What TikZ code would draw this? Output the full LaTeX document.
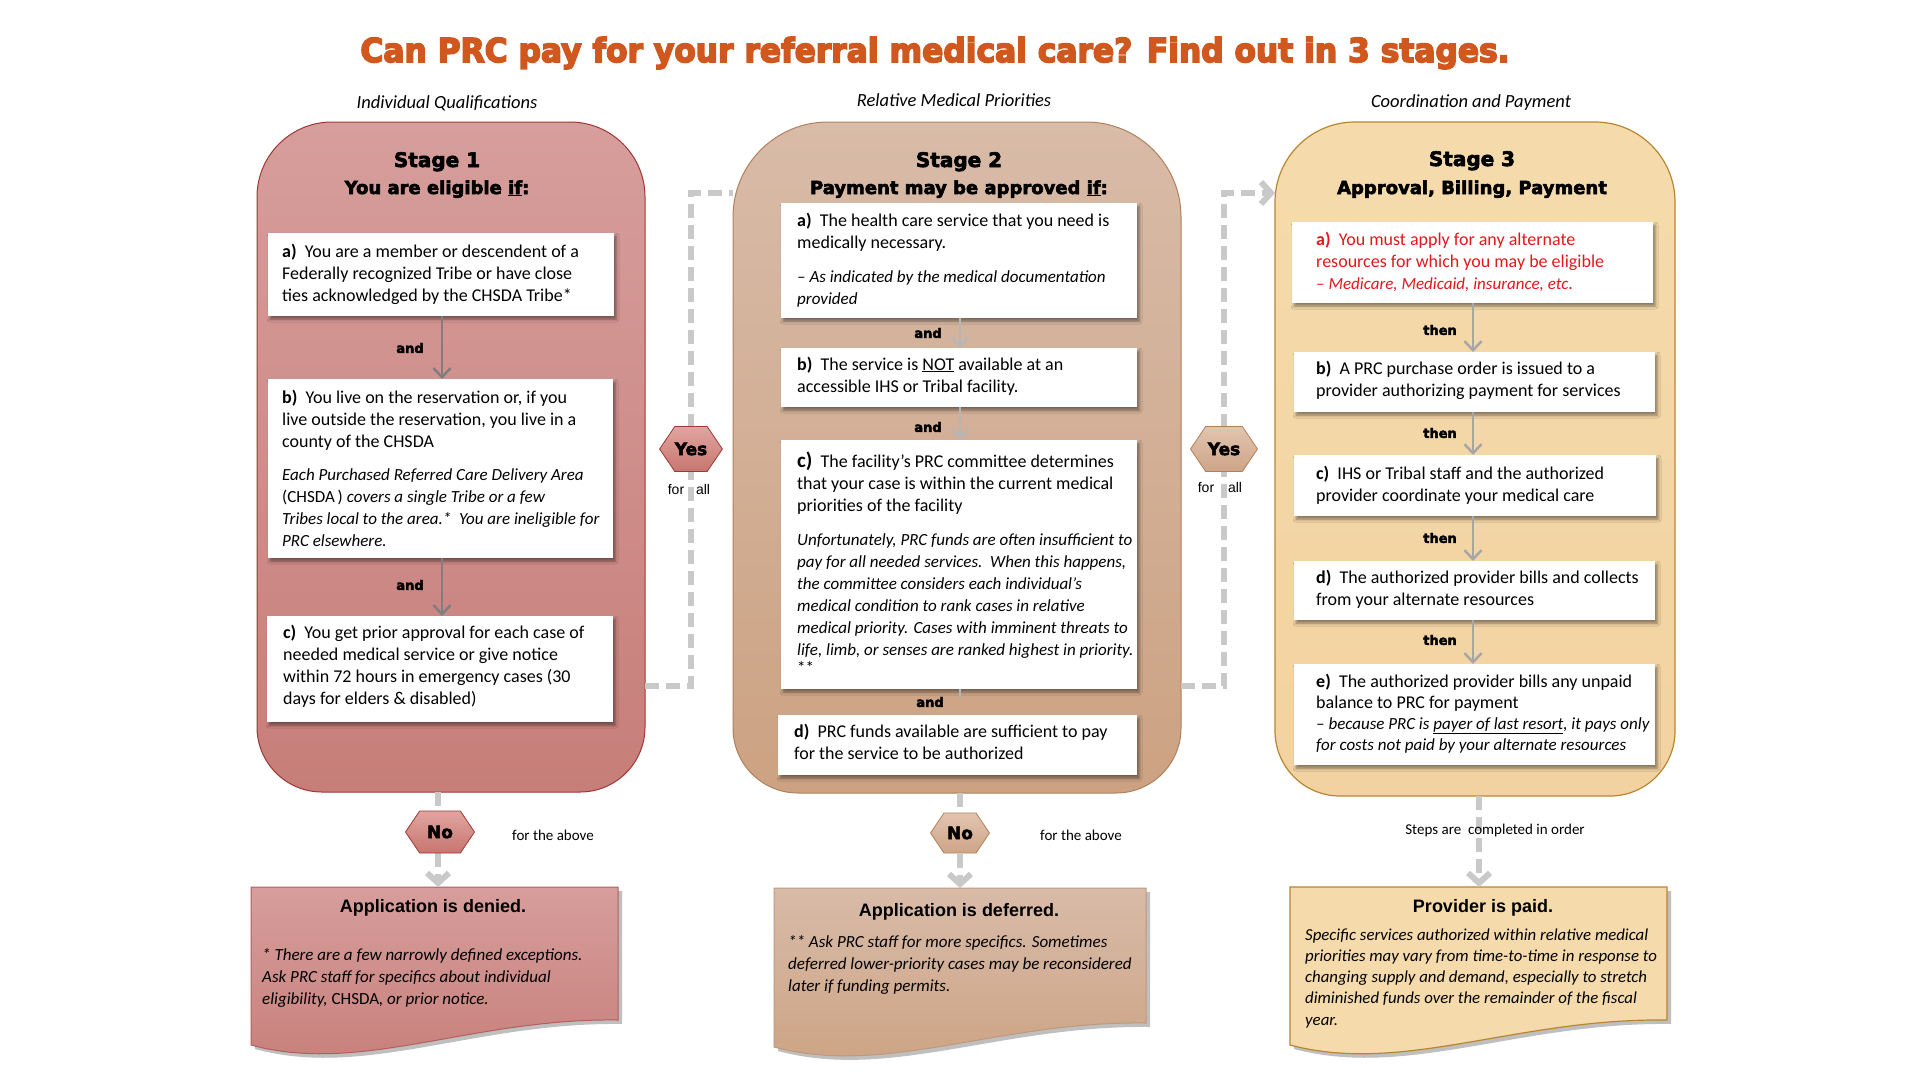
\documentclass[tikz,border=0pt]{standalone}
\usepackage{fontspec}
\usepackage{graphicx}
\setmainfont{Carlito}
\newfontfamily\heavy{DejaVu Sans}[BoldFeatures={FakeBold=3}]
\newfontfamily\titlefont{DejaVu Sans}[BoldFeatures={FakeBold=5}]
\newfontfamily\arial{Liberation Sans}
\usetikzlibrary{shapes.symbols,arrows.meta,shadows,shadows.blur}

\definecolor{titleor}{RGB}{208,88,30}
\definecolor{sAtop}{RGB}{214,158,156}
\definecolor{sAbot}{RGB}{199,126,121}
\definecolor{sAbrd}{RGB}{160,55,50}
\definecolor{sBtop}{RGB}{216,187,168}
\definecolor{sBbot}{RGB}{204,162,130}
\definecolor{sBbrd}{RGB}{176,128,92}
\definecolor{sCtop}{RGB}{245,219,172}
\definecolor{sCbot}{RGB}{242,210,160}
\definecolor{sCbrd}{RGB}{184,134,48}
\definecolor{hAtop}{RGB}{224,165,160}
\definecolor{hAbot}{RGB}{200,118,112}
\definecolor{hBtop}{RGB}{226,196,176}
\definecolor{hBbot}{RGB}{206,165,135}
\definecolor{dash}{RGB}{201,201,201}
\definecolor{gA}{RGB}{127,127,127}
\definecolor{gB}{RGB}{182,182,182}
\definecolor{gC}{RGB}{166,166,166}
\definecolor{redtxt}{RGB}{226,24,28}

\newcommand\bodyfont{\fontsize{18}{22}\selectfont}
\newcommand\ital[1]{{\fontsize{17}{22}\selectfont\itshape #1}}

\tikzset{
  wbox/.style={fill=white, draw=none, inner sep=0pt, anchor=north west,
    blur shadow={shadow xshift=2pt, shadow yshift=-3pt, shadow blur radius=3pt, shadow opacity=45}},
  btxt/.style={anchor=base west, inner sep=0pt},
  lbl/.style={inner sep=0pt, font=\heavy\bfseries\fontsize{13}{13}\selectfont},
  head/.style={anchor=base, inner sep=0pt, font=\heavy\bfseries\fontsize{20}{20}\selectfont},
  headb/.style={anchor=base, inner sep=0pt, font=\heavy\bfseries\fontsize{18}{18}\selectfont},
  subt/.style={inner sep=0pt, font=\itshape\fontsize{18.5}{18.5}\selectfont},
  small/.style={inner sep=0pt, font=\fontsize{15}{15}\selectfont},
  forall/.style={inner sep=0pt, font=\arial\fontsize{14}{14}\selectfont},
  hexA/.style={shape=signal, signal to=east and west, signal pointer angle=112,
    inner sep=0pt, top color=hAtop, bottom color=hAbot, draw=sAbrd, line width=0.8pt,
    font=\heavy\bfseries\fontsize{17}{17}\selectfont},
  hexB/.style={shape=signal, signal to=east and west, signal pointer angle=112,
    inner sep=0pt, top color=hBtop, bottom color=hBbot, draw=sBbrd, line width=0.8pt,
    font=\heavy\bfseries\fontsize{17}{17}\selectfont},
  dashline/.style={draw=dash, line width=6pt, dash pattern=on 14pt off 7pt},
  dasharrow/.style={dashline, -{Straight Barb[length=10pt,width=22pt]}},
  arrA/.style={draw=gA, line width=2.5pt, -{Straight Barb[length=9pt,width=17pt]}},
  arrB/.style={draw=gB, line width=2.5pt, -{Straight Barb[length=9pt,width=17pt]}},
  arrC/.style={draw=gC, line width=2.5pt, -{Straight Barb[length=9pt,width=17pt]}},
  doctitle/.style={inner sep=0pt, font=\arial\bfseries\fontsize{18}{18}\selectfont},
}

\begin{document}
\begin{tikzpicture}[x=1pt,y=-1pt]
\useasboundingbox[fill=white] (0,0) rectangle (1920,1080);

% ---------- title and subtitles ----------
\node[anchor=base, inner sep=0pt, text=titleor] (title) at (935,62)
  {\resizebox{1149pt}{25pt}{\titlefont\bfseries Can PRC pay for your referral medical care? Find out in 3 stages.}};
\node[subt] (sub1) at (447,103) {Individual Qualifications};
\node[subt] (sub2) at (954,100) {Relative Medical Priorities};
\node[subt] (sub3) at (1471,103) {Coordination and Payment};

% ---------- stage panels ----------
\path[top color=sAtop, bottom color=sAbot, draw=sAbrd, line width=1pt]
  (257,457) [rounded corners=75pt] |- (451,122) -| (645,457)
  [rounded corners=65pt] |- (451,792) -| (257,457) -- cycle;
\path[top color=sBtop, bottom color=sBbot, draw=sBbrd, line width=1pt]
  (733,457) [rounded corners=95pt] |- (957,122) -| (1181,457)
  [rounded corners=65pt] |- (957,793) -| (733,457) -- cycle;
\path[top color=sCtop, bottom color=sCbot, draw=sCbrd, line width=1.2pt]
  (1275,457) [rounded corners=80pt] |- (1475,122) -| (1675,457)
  [rounded corners=65pt] |- (1475,796) -| (1275,457) -- cycle;

\coordinate (s1out) at (645,686);
\coordinate (s2in) at (733,193);
\coordinate (s2out) at (1181,686);
\coordinate (s3in) at (1275,193);
\coordinate (s1bot) at (438,792);
\coordinate (s2bot) at (960,793);
\coordinate (s3bot) at (1479,796);

% headings
\node[head] (h1a) at (437,167) {Stage 1};
\node[headb] (h1b) at (437,194) {You are eligible \underline{if}:};
\node[head] (h2a) at (959,167) {Stage 2};
\node[headb] (h2b) at (959,194) {Payment may be approved \underline{if}:};
\node[head] (h3a) at (1472,166) {Stage 3};
\node[headb] (h3b) at (1472,194) {Approval, Billing, Payment};

% ---------- stage 1 boxes ----------
\node[wbox, minimum width=346pt, minimum height=83pt] (s1a) at (268,233) {};
\node[wbox, minimum width=345pt, minimum height=179pt] (s1b) at (268,379) {};
\node[wbox, minimum width=346pt, minimum height=106pt] (s1c) at (267,616) {};
\draw[arrA] (s1a.south -| 442,0) -- (s1b.north -| 442,0);
\draw[arrA] (s1b.south -| 442,0) -- (s1c.north -| 442,0);
\node[lbl] (and1) at (410,348) {and};
\node[lbl] (and2) at (410,585) {and};

\node[btxt] (t1a) at (282,257) {\parbox[t]{420pt}{\bodyfont
  \textbf{a)}\ \ You are a member or descendent of a\\
  Federally recognized Tribe or have close\\
  ties acknowledged by the CHSDA Tribe*}};
\node[btxt] (t1b) at (282,403) {\parbox[t]{420pt}{\bodyfont
  \textbf{b)}\ \ You live on the reservation or, if you\\
  live outside the reservation, you live in a\\
  county of the CHSDA\\[11pt]
  \ital{Each Purchased Referred Care Delivery Area}\\
  {\fontsize{17}{22}\selectfont (CHSDA\,)} \ital{covers a single Tribe or a few}\\
  \ital{Tribes local to the area.*\ \ You are ineligible for}\\
  \ital{PRC elsewhere.}}};
\node[btxt] (t1c) at (283,638) {\parbox[t]{420pt}{\bodyfont
  \textbf{c)}\ \ You get prior approval for each case of\\
  needed medical service or give notice\\
  within 72 hours in emergency cases (30\\
  days for elders \& disabled)}};

% ---------- stage 2 boxes ----------
\node[wbox, minimum width=356pt, minimum height=115pt] (s2a) at (781,203) {};
\node[wbox, minimum width=356pt, minimum height=59pt] (s2b) at (781,348) {};
\node[wbox, minimum width=356pt, minimum height=249pt] (s2c) at (781,440) {};
\draw[arrB] (s2a.south -| 960,0) -- (s2b.north -| 960,0);
\draw[arrB] (s2b.south -| 960,0) -- (s2c.north -| 960,0);
\draw[draw=gB, line width=2.5pt] (s2c.south -| 960,0) -- (960,697);
\node[wbox, minimum width=359pt, minimum height=60pt] (s2d) at (778,715) {};
\node[lbl] (and3) at (928,333) {and};
\node[lbl] (and4) at (928,427) {and};
\node[lbl] (and5) at (930,702) {and};

\node[btxt] (t2a) at (797,226) {\parbox[t]{420pt}{\bodyfont
  \textbf{a)}\ \ The health care service that you need is\\
  medically necessary.\\[12pt]
  \ital{-- As indicated by the medical documentation}\\
  \ital{provided}}};
\node[btxt] (t2b) at (797,370) {\parbox[t]{420pt}{\bodyfont
  \textbf{b)}\ \ The service is \underline{NOT} available at an\\
  accessible IHS or Tribal facility.}};
\node[btxt] (t2c) at (797,467) {\parbox[t]{420pt}{\bodyfont
  {\fontsize{21}{22}\selectfont\textbf{c)}}\ \ The facility's PRC committee determines\\
  that your case is within the current medical\\
  priorities of the facility\\[12pt]
  \ital{Unfortunately, PRC funds are often insufficient to}\\
  \ital{pay for all needed services.\ \ When this happens,}\\
  \ital{the committee considers each individual's}\\
  \ital{medical condition to rank cases in relative}\\
  \ital{medical priority. Cases with imminent threats to}\\
  \ital{life, limb, or senses are ranked highest in priority.}\\[-4pt]
  {\fontsize{17}{22}\selectfont **}}};
\node[btxt] (t2d) at (794,737) {\parbox[t]{420pt}{\bodyfont
  \textbf{d)}\ \ PRC funds available are sufficient to pay\\
  for the service to be authorized}};

% ---------- stage 3 boxes ----------
\node[wbox, minimum width=361pt, minimum height=81pt] (s3a) at (1292,222) {};
\node[wbox, minimum width=361pt, minimum height=60pt] (s3b) at (1294,352) {};
\node[wbox, minimum width=362pt, minimum height=61pt] (s3c) at (1294,455) {};
\node[wbox, minimum width=361pt, minimum height=59pt] (s3d) at (1294,561) {};
\node[wbox, minimum width=361pt, minimum height=101pt] (s3e) at (1294,664) {};
\draw[arrC] (s3a.south -| 1473,0) -- (s3b.north -| 1473,0);
\draw[arrC] (s3b.south -| 1473,0) -- (s3c.north -| 1473,0);
\draw[arrC] (s3c.south -| 1473,0) -- (s3d.north -| 1473,0);
\draw[arrC] (s3d.south -| 1473,0) -- (s3e.north -| 1473,0);
\node[lbl] (then1) at (1440,330) {then};
\node[lbl] (then2) at (1440,433) {then};
\node[lbl] (then3) at (1440,538) {then};
\node[lbl] (then4) at (1440,640) {then};

\node[btxt, text=redtxt] (t3a) at (1316,245) {\parbox[t]{420pt}{\bodyfont
  \textbf{a)}\ \ You must apply for any alternate\\
  resources for which you may be eligible\\
  \ital{-- Medicare, Medicaid, insurance, etc}.}};
\node[btxt] (t3b) at (1316,374) {\parbox[t]{420pt}{\bodyfont
  \textbf{b)}\ \ A PRC purchase order is issued to a\\
  provider authorizing payment for services}};
\node[btxt] (t3c) at (1316,479) {\parbox[t]{420pt}{\bodyfont
  \textbf{c)}\ \ IHS or Tribal staff and the authorized\\
  provider coordinate your medical care}};
\node[btxt] (t3d) at (1316,583) {\parbox[t]{420pt}{\bodyfont
  \textbf{d)}\ \ The authorized provider bills and collects\\
  from your alternate resources}};
\node[btxt] (t3e) at (1316,687) {\parbox[t]{420pt}{\fontsize{18}{21}\selectfont
  \textbf{e)}\ \ The authorized provider bills any unpaid\\
  balance to PRC for payment\\
  {\fontsize{17}{21}\selectfont\itshape -- because PRC is \underline{payer of last resort}, it pays only}\\
  {\fontsize{17}{21}\selectfont\itshape for costs not paid by your alternate resources}}};

% ---------- connectors between stages ----------
\draw[dashline] (s1out) -| (691,449);
\draw[dashline] (691,449) |- (s2in);
\draw[dashline] (s2out) -| (1224,449);
\draw[dasharrow] (1224,449) |- (s3in);
\node[hexA, minimum width=60pt, minimum height=45pt] (yes1) at (691,449) {Yes};
\node[hexB, minimum width=67pt, minimum height=45pt] (yes2) at (1224,449) {Yes};
\node[forall] (for1) at (676,489) {for};
\node[forall] (all1) at (703,489) {all};
\node[forall] (for2) at (1206,487) {for};
\node[forall] (all2) at (1235,487) {all};

% ---------- bottom outcome boxes ----------
\path[top color=sAtop, bottom color=sAbot, draw=sAbrd!80, line width=1pt,
  drop shadow={shadow xshift=4pt, shadow yshift=-4pt, fill=black, opacity=0.25}]
  (251,887) -- (618,887) -- (618,1020) .. controls (471,1018) and (361,1075) .. (251,1045) -- cycle;
\path[top color=sBtop, bottom color=sBbot, draw=sBbrd!80, line width=1pt,
  drop shadow={shadow xshift=4pt, shadow yshift=-4pt, fill=black, opacity=0.25}]
  (774,888) -- (1146,888) -- (1146,1023) .. controls (997,1021) and (886,1077) .. (774,1047) -- cycle;
\path[fill=sCtop, draw=sCbrd, line width=1.2pt,
  drop shadow={shadow xshift=4pt, shadow yshift=-4pt, fill=black, opacity=0.25}]
  (1290,887) -- (1667,887) -- (1667,1020) .. controls (1516,1018) and (1403,1075) .. (1290,1045) -- cycle;
\coordinate (dentop) at (438,887);
\coordinate (deftop) at (960,888);
\coordinate (paidtop) at (1479,887);

\draw[dashline] (s1bot) -- (438,832);
\draw[dasharrow] (438,832) -- (dentop);
\draw[dashline] (s2bot) -- (960,833);
\draw[dasharrow] (960,833) -- (deftop);
\draw[dasharrow] (s3bot) -- (paidtop);
\node[hexA, minimum width=69pt, minimum height=42pt] (no1) at (440,832) {No};
\node[hexB, minimum width=59pt, minimum height=40pt] (no2) at (960,833) {No};

\node[small] (above1) at (553,835) {for the above};
\node[small] (above2) at (1081,835) {for the above};
\node[small] (steps) at (1495,830) {Steps are\ \ completed in order};

\node[doctitle] (den) at (433,908) {Application is denied.};
\node[btxt] (dentxt) at (262,960) {\parbox[t]{420pt}{\fontsize{17}{22}\selectfont\itshape
  * There are a few narrowly defined exceptions.\\
  Ask PRC staff for specifics about individual\\
  eligibility, \textup{CHSDA}, or prior notice.}};
\node[doctitle] (def) at (959,912) {Application is deferred.};
\node[btxt] (deftxt) at (788,947) {\parbox[t]{420pt}{\fontsize{17}{22}\selectfont\itshape
  ** Ask PRC staff for more specifics. Sometimes\\
  deferred lower-priority cases may be reconsidered\\
  later if funding permits.}};
\node[doctitle] (paid) at (1483,908) {Provider is paid.};
\node[btxt] (paidtxt) at (1305,940) {\parbox[t]{420pt}{\fontsize{16.8}{21.3}\selectfont\itshape
  Specific services authorized within relative medical\\
  priorities may vary from time-to-time in response to\\
  changing supply and demand, especially to stretch\\
  diminished funds over the remainder of the fiscal\\
  year.}};
\end{tikzpicture}
\end{document}
